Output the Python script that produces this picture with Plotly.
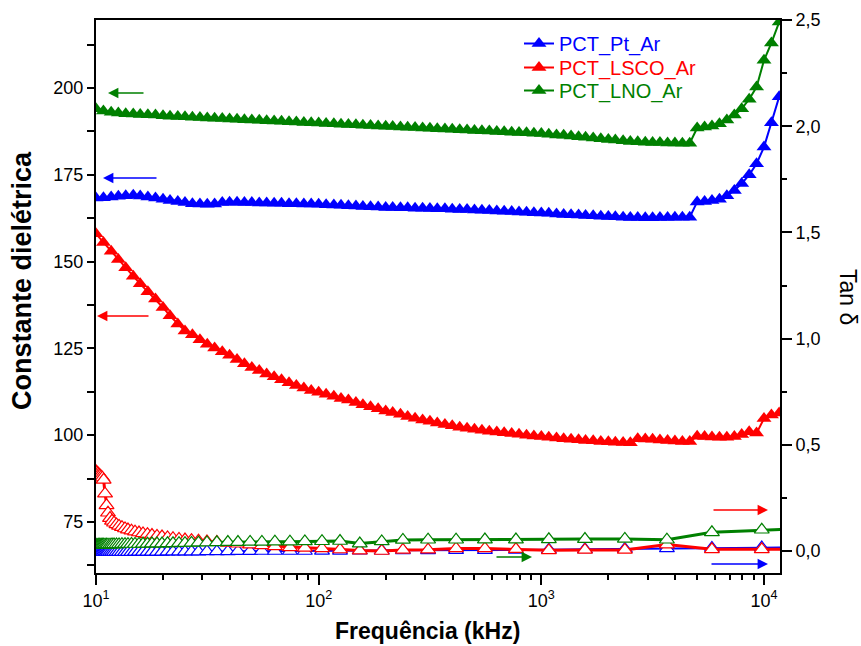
import plotly.graph_objects as go

# ---------------- data ----------------
freq_eps = [10, 10.8, 11.7, 12.6, 13.6, 14.7, 15.8, 17.1, 18.5, 20.0, 21.5, 23.3, 25.1, 27.1, 29.3,
            31.6, 34.1, 36.9, 39.8, 43.0, 46.4, 50.1, 54.1, 58.4, 63.1, 68.1, 73.6, 79.4, 85.8, 92.6,
            100, 108, 117, 126, 136, 147, 158, 171, 185, 200, 215, 233, 251, 271, 293,
            316, 341, 369, 398, 430, 464, 501, 541, 584, 631, 681, 736, 794, 858, 926,
            1000, 1080, 1170, 1260, 1360, 1470, 1580, 1710, 1850, 2000, 2150, 2330, 2510, 2710, 2930,
            3160, 3410, 3690, 3980, 4300, 4640, 5010, 5410, 5840, 6310, 6810, 7360, 7940, 8580, 9260,
            10000, 10800, 11700]

eps_pt = [168.3, 168.4, 168.6, 168.8, 169.0, 169.1, 168.9, 168.6, 168.3, 168.0, 167.6, 167.3, 167.0, 166.7, 166.6,
          166.5, 166.6, 167.0, 167.1, 167.1, 167.0, 167.0, 166.9, 166.9, 166.8, 166.8, 166.7, 166.7, 166.6, 166.6,
          166.5, 166.4, 166.3, 166.2, 166.1, 166.0, 165.9, 165.8, 165.7, 165.6, 165.6, 165.5, 165.5, 165.4, 165.4,
          165.3, 165.2, 165.2, 165.1, 165.0, 165.0, 164.9, 164.8, 164.7, 164.6, 164.5, 164.4, 164.3, 164.2, 164.1,
          164.0, 163.9, 163.7, 163.6, 163.5, 163.4, 163.3, 163.2, 163.1, 163.0, 162.9, 162.8, 162.7, 162.7, 162.6,
          162.6, 162.7, 162.7, 162.8, 162.8, 162.8, 167.2, 167.3, 167.6, 168.0, 169.0, 170.5, 172.5, 175.0, 178.2,
          183.0, 190.0, 197.5]

eps_lsco = [158.0, 155.5, 153.0, 150.6, 148.2, 145.8, 143.6, 141.3, 139.2, 136.8, 134.4, 132.0, 130.0, 128.9, 127.5,
            126.2, 125.1, 124.0, 123.0, 121.8, 120.6, 119.5, 118.6, 117.6, 116.8, 116.0, 115.1, 114.3, 113.6, 112.9,
            112.4, 111.8, 111.2, 110.6, 110.1, 109.4, 108.8, 108.2, 107.6, 107.0, 106.5, 106.0, 105.4, 104.9, 104.4,
            104.0, 103.5, 103.1, 102.7, 102.3, 102.0, 101.7, 101.4, 101.1, 100.9, 100.7, 100.5, 100.3, 100.0, 99.8,
            99.6, 99.4, 99.2, 99.0, 98.8, 98.7, 98.5, 98.4, 98.2, 98.1, 98.0, 97.9, 97.8, 99.0, 98.9,
            98.8, 98.6, 98.5, 98.3, 98.2, 98.2, 99.7, 99.6, 99.5, 99.4, 99.4, 99.6, 100.2, 101.0, 100.6,
            104.8, 105.8, 106.4]

eps_lno = [194.0, 193.4, 193.0, 192.8, 192.6, 192.5, 192.4, 192.3, 192.2, 192.0, 191.9, 191.8, 191.7, 191.6, 191.5,
           191.4, 191.3, 191.2, 191.1, 191.0, 190.9, 190.8, 190.7, 190.6, 190.5, 190.4, 190.3, 190.2, 190.1, 190.0,
           189.9, 189.8, 189.7, 189.6, 189.5, 189.4, 189.3, 189.2, 189.1, 189.0, 188.9, 188.8, 188.7, 188.6, 188.5,
           188.4, 188.3, 188.2, 188.1, 188.0, 187.9, 187.8, 187.7, 187.6, 187.5, 187.4, 187.3, 187.2, 187.1, 187.0,
           186.9, 186.7, 186.5, 186.4, 186.2, 186.0, 185.8, 185.6, 185.4, 185.2, 185.0, 184.8, 184.6, 184.5, 184.4,
           184.3, 184.3, 184.2, 184.2, 184.1, 184.1, 188.5, 188.8, 189.1, 189.7, 190.8, 192.2, 194.0, 196.8, 200.3,
           208.0, 213.0, 219.0]

freq_tan = [10.0, 10.1, 10.21, 10.31, 10.42, 10.55, 10.68, 10.82, 10.98, 11.15, 11.32, 11.56, 11.8, 12.05, 12.36,
            12.69, 13.08, 13.5, 13.92, 14.43, 14.97, 15.6, 16.26, 17.03, 17.84, 18.79, 19.79, 20.95, 22.17, 23.59,
            25.1, 26.85, 28.86, 31.5, 34.9, 39.1, 43.4, 49.2, 55.6, 63.6, 74.3, 86.7, 103.5, 124.7, 153,
            192, 239, 310, 414, 558, 769, 1081, 1570, 2372, 3664, 5835, 9772, 17300]

tan_pt = [-0.005, -0.005, -0.005, -0.005, -0.005, -0.005, -0.005, -0.005, -0.005, -0.005, -0.005, -0.005, -0.005, -0.005, -0.005,
          -0.005, -0.005, -0.005, -0.005, -0.005, -0.004, -0.004, -0.004, -0.004, -0.004, -0.004, -0.004, -0.003, -0.003, -0.003,
          -0.003, -0.003, -0.003, -0.002, -0.002, -0.002, -0.001, -0.001, 0.0, 0.0, 0.0, 0.0, 0.001, 0.001, 0.002,
          0.002, 0.003, 0.003, 0.004, 0.004, 0.005, 0.006, 0.008, 0.010, 0.012, 0.014, 0.016, 0.018]

tan_lsco = [0.375, 0.370, 0.365, 0.360, 0.355, 0.350, 0.345, 0.335, 0.270, 0.215, 0.180, 0.155, 0.142, 0.133, 0.125,
            0.118, 0.112, 0.106, 0.101, 0.096, 0.091, 0.087, 0.083, 0.079, 0.075, 0.071, 0.068, 0.064, 0.060, 0.057,
            0.054, 0.051, 0.048, 0.045, 0.042, 0.038, 0.034, 0.030, 0.026, 0.022, 0.017, 0.015, 0.012, 0.007, 0.002,
            0.000, 0.005, 0.006, 0.012, 0.012, 0.009, 0.003, 0.005, 0.005, 0.030, 0.008, 0.008, 0.010]

tan_lno = [0.028, 0.028, 0.028, 0.029, 0.029, 0.029, 0.029, 0.030, 0.030, 0.030, 0.030, 0.030, 0.031, 0.031, 0.031,
           0.031, 0.032, 0.032, 0.032, 0.033, 0.033, 0.033, 0.034, 0.034, 0.035, 0.035, 0.035, 0.036, 0.036, 0.037,
           0.037, 0.038, 0.039, 0.040, 0.041, 0.042, 0.042, 0.043, 0.043, 0.044, 0.044, 0.045, 0.046, 0.047, 0.035,
           0.045, 0.052, 0.053, 0.053, 0.054, 0.054, 0.055, 0.056, 0.057, 0.053, 0.088, 0.100, 0.108]

x_tickvals = [10, 100, 1000, 10000]
x_ticktext = ["10<sup>1</sup>", "10<sup>2</sup>", "10<sup>3</sup>", "10<sup>4</sup>"]
x_minor = [20, 30, 40, 50, 60, 70, 80, 90, 200, 300, 400, 500, 600, 700, 800, 900,
           2000, 3000, 4000, 5000, 6000, 7000, 8000, 9000]

names = ["PCT_Pt_Ar", "PCT_LSCO_Ar", "PCT_LNO_Ar"]
colors = ["#0000FF", "#FF0000", "#008000"]

FONT = "Liberation Sans, Arial, sans-serif"

W, H = 861, 646
L, R, T, B = 96, 780, 20, 573


def px(x):
    return (x - L) / (R - L)


def py(y):
    return (B - y) / (B - T)


fig = go.Figure()

# loss tangent (hollow markers, right axis)
for tan_vals, col, lw in [(tan_pt, colors[0], 2), (tan_lsco, colors[1], 3), (tan_lno, colors[2], 3)]:
    fig.add_trace(go.Scatter(
        x=freq_tan, y=tan_vals, yaxis="y2", mode="lines+markers", showlegend=False,
        line=dict(color=col, width=lw),
        marker=dict(symbol="triangle-up", size=13, color="white", line=dict(color=col, width=1.2)),
    ))

# dielectric constant (solid markers, left axis); one legend box per entry
legend_ids = ["legend", "legend2", "legend3"]
for eps_vals, name, col, lg in [(eps_pt, names[0], colors[0], legend_ids[0]),
                                (eps_lsco, names[1], colors[1], legend_ids[1]),
                                (eps_lno, names[2], colors[2], legend_ids[2])]:
    fig.add_trace(go.Scatter(
        x=freq_eps, y=eps_vals, yaxis="y", mode="lines+markers", legend=lg,
        name=f'<span style="color:{col}">{name}</span>',
        line=dict(color=col, width=2),
        marker=dict(symbol="triangle-up", size=13, color=col, line=dict(width=0)),
    ))

ann = []
# axis indicator arrows: (head_x, tail_x, y, color)
for hx, tx, yy, col in [(108, 145, 93, colors[2]), (103, 158, 178, colors[0]), (97, 150, 316, colors[1]),
                        (768, 712, 510, colors[1]), (532, 495, 557, colors[2]), (768, 710, 564, colors[0])]:
    ann.append(dict(x=px(hx), y=py(yy), xref="paper", yref="paper", text="", showarrow=True,
                    ax=tx - hx, ay=0, axref="pixel", ayref="pixel", arrowhead=2, arrowsize=1.6,
                    arrowwidth=1.3, arrowcolor=col, standoff=0, startstandoff=0))

ann.append(dict(x=px(22), y=py(281), xref="paper", yref="paper", text="<b>Constante dielétrica</b>",
                showarrow=False, textangle=-90, font=dict(family=FONT, size=27, color="black"),
                xanchor="center", yanchor="middle"))
ann.append(dict(x=px(427), y=py(631), xref="paper", yref="paper", text="<b>Frequência (kHz)</b>",
                showarrow=False, font=dict(family=FONT, size=23, color="black"),
                xanchor="center", yanchor="middle"))
ann.append(dict(x=px(848), y=py(297), xref="paper", yref="paper", text="Tan δ",
                showarrow=False, textangle=90, font=dict(family=FONT, size=23, color="black"),
                xanchor="center", yanchor="middle"))

legend_tops = [24, 48, 71]
leg_common = dict(xanchor="left", yanchor="top", bgcolor="rgba(0,0,0,0)",
                  font=dict(family=FONT, size=20), itemwidth=30)

fig.update_layout(
    width=W, height=H,
    margin=dict(l=L, r=W - R, t=T, b=H - B, autoexpand=False),
    plot_bgcolor="white", paper_bgcolor="white",
    separators=",.",
    font=dict(family=FONT, size=18, color="black"),
    showlegend=True,
    legend=dict(x=px(519), y=py(legend_tops[0]), **leg_common),
    legend2=dict(x=px(519), y=py(legend_tops[1]), **leg_common),
    legend3=dict(x=px(519), y=py(legend_tops[2]), **leg_common),
    annotations=ann,
    xaxis=dict(type="log", range=[1, 4.0719], showline=True, linecolor="black", linewidth=2,
               mirror=True, ticks="outside", ticklen=10, tickwidth=1.5, tickcolor="black",
               tickmode="array", tickvals=x_tickvals, ticktext=x_ticktext,
               minor=dict(tickmode="array", tickvals=x_minor, ticks="outside", ticklen=5,
                          tickwidth=1.5, tickcolor="black", showgrid=False),
               showgrid=False, zeroline=False, tickfont=dict(size=18)),
    yaxis=dict(range=[60.3, 219.6], showline=True, linecolor="black", linewidth=2,
               ticks="outside", ticklen=7, tickwidth=1.5, tickcolor="black",
               tick0=0, dtick=25,
               minor=dict(dtick=12.5, tick0=0, ticks="outside", ticklen=7, tickwidth=1.5,
                          tickcolor="black", showgrid=False),
               showgrid=False, zeroline=False, tickfont=dict(size=18)),
    yaxis2=dict(overlaying="y", side="right", range=[-0.1036, 2.5], showline=True,
                linecolor="black", linewidth=2, ticks="outside", ticklen=10, tickwidth=1.5,
                tickcolor="black", tick0=0, dtick=0.5, tickformat=".1f",
                minor=dict(dtick=0.25, tick0=0, ticks="outside", ticklen=5, tickwidth=1.5,
                           tickcolor="black", showgrid=False),
                showgrid=False, zeroline=False, tickfont=dict(size=18)),
)

fig.write_html("out.html", config={"displayModeBar": False},
               post_script="document.body.style.margin='0px';document.body.style.padding='0px';")
